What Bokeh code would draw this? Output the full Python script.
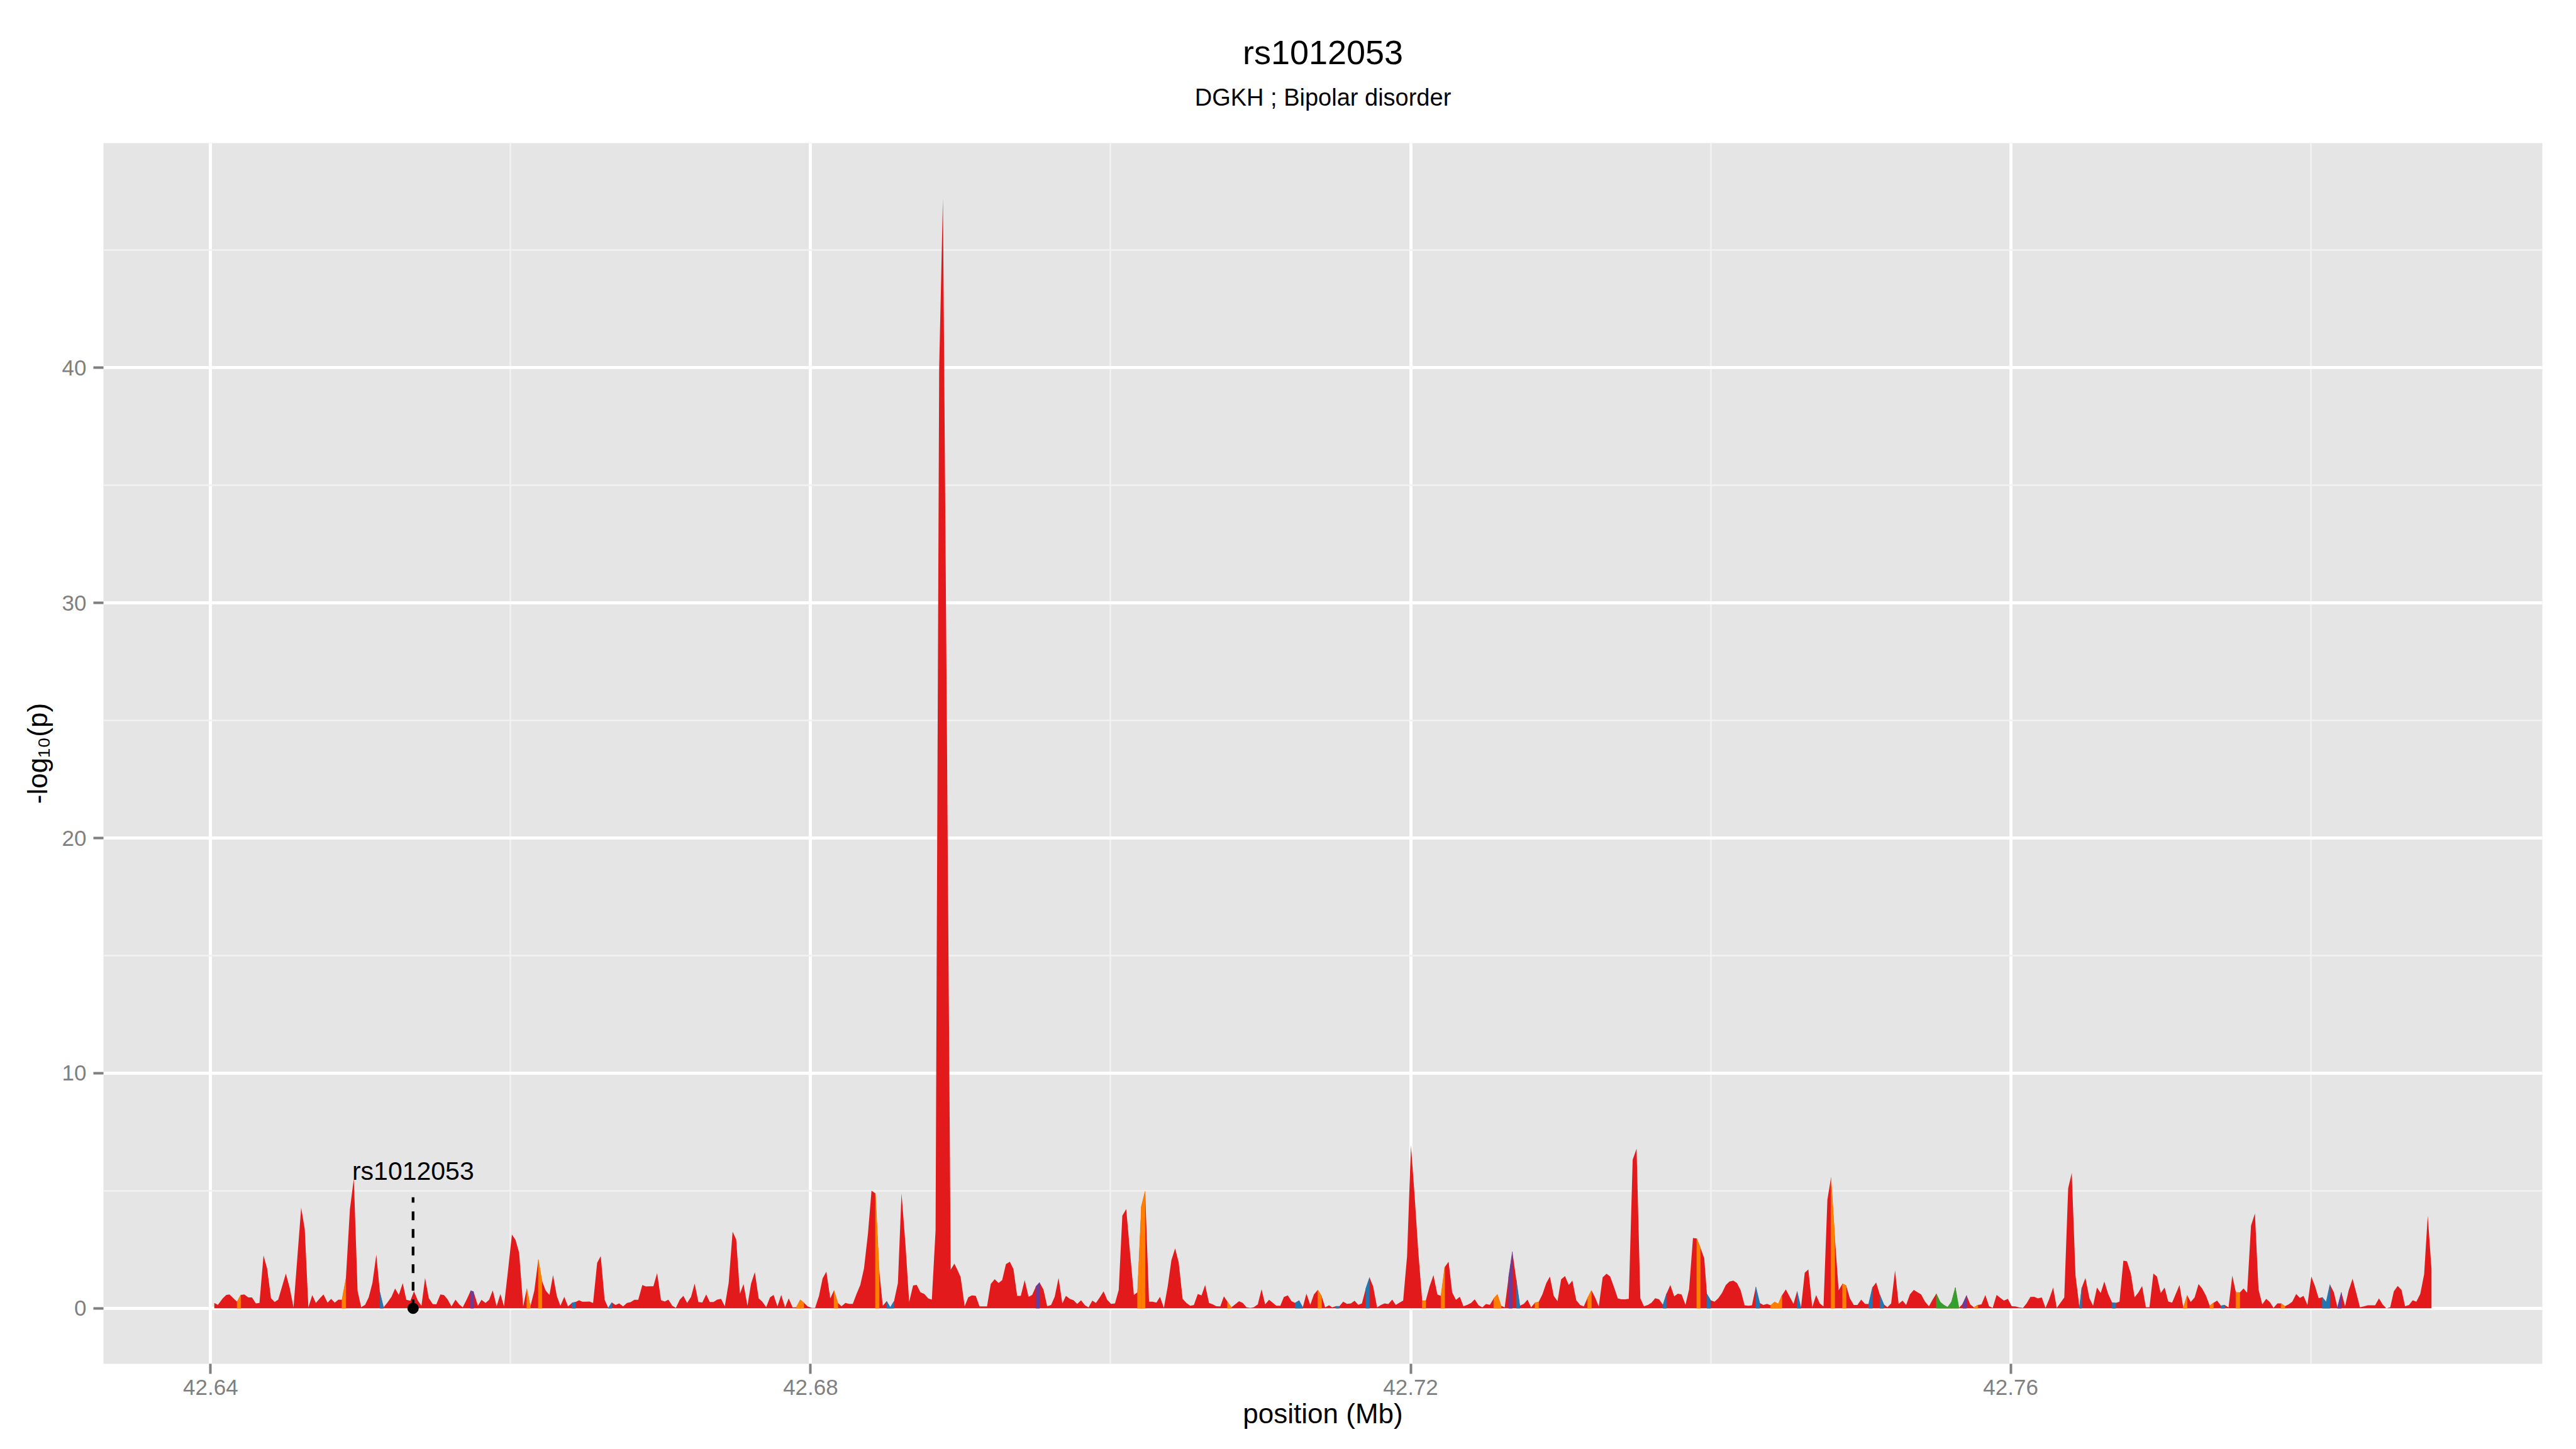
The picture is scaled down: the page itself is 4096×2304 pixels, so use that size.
import numpy as np
from bokeh.plotting import figure
from bokeh.models import FixedTicker, PrintfTickFormatter, Range1d, Label, Title
from bokeh.embed import file_html
from bokeh.resources import INLINE

# ---------------- data ----------------
title = "rs1012053"
subtitle = "DGKH ; Bipolar disorder"
snp_label = "rs1012053"
snp_position = 42.6535
snp_line_top = 4.72
snp_label_y = 5.85

x_major = [42.64, 42.68, 42.72, 42.76]
x_minor = [42.66, 42.70, 42.74, 42.78]
y_major = [0, 10, 20, 30, 40]
y_minor = [5, 15, 25, 35, 45]

position_mb = [
42.64025,42.64049,42.64081,42.64105,42.64126,42.64153,42.64177,42.64201,42.64225,42.64252,
42.64276,42.64302,42.64326,42.64353,42.64377,42.64403,42.64427,42.64451,42.64502,42.64527,
42.64553,42.64604,42.64628,42.64652,42.64678,42.64702,42.64729,42.64753,42.64780,42.64804,
42.64828,42.64852,42.64876,42.64902,42.64929,42.64955,42.64980,42.65004,42.65030,42.65054,
42.65079,42.65105,42.65129,42.65153,42.65177,42.65206,42.65230,42.65255,42.65281,42.65305,
42.65332,42.65356,42.65382,42.65406,42.65430,42.65455,42.65481,42.65505,42.65532,42.65556,
42.65580,42.65606,42.65633,42.65657,42.65681,42.65708,42.65734,42.65753,42.65782,42.65806,
42.65833,42.65857,42.65881,42.65907,42.65932,42.65956,42.65982,42.66009,42.66033,42.66057,
42.66084,42.66108,42.66132,42.66158,42.66185,42.66209,42.66233,42.66259,42.66283,42.66308,
42.66332,42.66358,42.66383,42.66409,42.66433,42.66457,
42.66478,42.66502,42.66526,42.66550,42.66577,42.66601,42.66627,42.66651,42.66675,42.66700,
42.66724,42.66750,42.66776,42.66800,42.66825,42.66851,42.66878,42.66902,42.66928,42.66952,
42.66977,42.67003,42.67028,42.67052,42.67078,42.67102,42.67128,42.67152,42.67177,42.67203,
42.67227,42.67252,42.67278,42.67304,42.67328,42.67353,42.67377,42.67403,42.67428,42.67454,
42.67480,42.67504,42.67529,42.67553,42.67579,42.67603,42.67628,42.67654,42.67678,42.67704,
42.67729,42.67753,42.67779,42.67804,42.67830,42.67854,42.67880,42.67905,42.67931,42.67955,
42.67980,42.68006,42.68030,42.68056,42.68080,42.68105,42.68131,42.68156,42.68182,42.68206,
42.68232,42.68257,42.68281,42.68307,42.68331,42.68356,42.68382,42.68406,42.68432,42.68457,
42.68481,42.68507,42.68531,42.68556,42.68582,42.68606,42.68632,42.68657,42.68683,42.68707,
42.68732,42.68758,42.68784,42.68808,42.68833,42.68857,42.68882,42.68907,42.68934,42.68958,
42.68976,42.69000,42.69027,42.69051,42.69075,42.69101,42.69126,42.69152,42.69176,42.69201,
42.69227,42.69253,42.69277,42.69302,42.69328,42.69352,42.69377,42.69401,42.69427,42.69453,
42.69477,42.69502,42.69526,42.69552,42.69577,42.69603,42.69627,42.69653,42.69678,42.69702,
42.69728,42.69753,42.69777,42.69803,42.69829,42.69853,42.69878,42.69902,42.69928,42.69953,
42.69977,42.70003,42.70029,42.70054,42.70078,42.70104,42.70129,42.70155,42.70179,42.70205,
42.70230,42.70256,42.70280,42.70305,42.70329,42.70355,42.70381,42.70405,42.70430,42.70454,
42.70480,42.70505,42.70531,42.70555,42.70581,42.70606,42.70630,42.70656,42.70681,42.70705,
42.70731,42.70755,42.70779,42.70805,42.70830,42.70856,42.70881,42.70905,42.70931,42.70955,
42.70981,42.71006,42.71030,42.71056,42.71080,42.71105,42.71131,42.71155,42.71181,42.71206,
42.71230,42.71256,42.71281,42.71305,42.71331,42.71355,42.71381,42.71406,42.71430,42.71456,
42.71477,42.71501,42.71525,42.71550,42.71576,42.71602,42.71626,42.71651,42.71675,42.71701,
42.71726,42.71750,42.71776,42.71802,42.71826,42.71851,42.71877,42.71901,42.71926,42.71950,
42.71976,42.72002,42.72026,42.72051,42.72077,42.72101,42.72126,42.72152,42.72178,42.72202,
42.72227,42.72253,42.72277,42.72302,42.72328,42.72352,42.72378,42.72403,42.72427,42.72453,
42.72478,42.72502,42.72528,42.72554,42.72578,42.72603,42.72627,42.72653,42.72678,42.72704,
42.72728,42.72754,42.72779,42.72803,42.72829,42.72853,42.72878,42.72904,42.72928,42.72954,
42.72979,42.73003,42.73029,42.73054,42.73078,42.73104,42.73130,42.73154,42.73179,42.73205,
42.73229,42.73254,42.73280,42.73306,42.73330,42.73355,42.73381,42.73405,42.73430,42.73454,
42.73480,42.73506,42.73531,42.73555,42.73581,42.73606,42.73630,42.73656,42.73682,42.73706,
42.73731,42.73757,42.73781,42.73806,42.73832,42.73856,42.73882,42.73907,42.73931,42.73957,
42.73975,42.74000,42.74026,42.74050,42.74075,42.74101,42.74125,42.74151,42.74176,42.74200,
42.74226,42.74251,42.74275,42.74301,42.74327,42.74351,42.74376,42.74400,42.74426,42.74451,
42.74475,42.74501,42.74527,42.74552,42.74576,42.74602,42.74627,42.74651,42.74677,42.74703,
42.74727,42.74752,42.74778,42.74802,42.74827,42.74853,42.74879,42.74903,42.74928,42.74954,
42.74978,42.75003,42.75029,42.75053,42.75079,42.75103,42.75128,42.75154,42.75178,42.75203,
42.75229,42.75253,42.75279,42.75303,42.75328,42.75354,42.75379,42.75403,42.75429,42.75455,
42.75479,42.75504,42.75530,42.75554,42.75579,42.75605,42.75631,42.75655,42.75680,42.75706,
42.75730,42.75755,42.75781,42.75805,42.75831,42.75856,42.75880,42.75906,42.75931,42.75955,
42.75981,42.76007,42.76031,42.76056,42.76082,42.76106,42.76131,42.76157,42.76181,42.76207,
42.76232,42.76256,42.76283,42.76307,42.76331,42.76357,42.76383,42.76407,42.76432,42.76458,
42.76474,42.76498,42.76525,42.76549,42.76575,42.76600,42.76624,42.76650,42.76676,42.76700,
42.76725,42.76751,42.76775,42.76800,42.76826,42.76850,42.76876,42.76901,42.76925,42.76951,
42.76975,42.77000,42.77026,42.77050,42.77076,42.77101,42.77125,42.77151,42.77176,42.77200,
42.77226,42.77252,42.77276,42.77301,42.77327,42.77351,42.77376,42.77402,42.77426,42.77452,
42.77477,42.77501,42.77527,42.77552,42.77576,42.77602,42.77628,42.77652,42.77677,42.77703,
42.77727,42.77752,42.77778,42.77802,42.77828,42.77853,42.77877,42.77903,42.77928,42.77952,
42.77978,42.78004,42.78028,42.78053,42.78077,42.78103,42.78128,42.78154,42.78178,42.78204,
42.78229,42.78253,42.78279,42.78304,42.78328,42.78354,42.78380,42.78404,42.78429,42.78455,
42.78479,42.78504,42.78530,42.78554,42.78580,42.78605,42.78629,42.78655,42.78680,42.78704,
42.78730,42.78756,42.78780,42.78805,
]

neg_log10_p = [
0.23,0.15,0.42,0.57,0.59,0.42,0.28,0.57,0.59,0.46,
0.46,0.21,0.23,2.25,1.69,0.43,0.27,0.37,1.48,0.88,
0.04,4.28,3.36,0.04,0.56,0.23,0.43,0.59,0.24,0.40,
0.24,0.37,0.36,1.26,4.22,5.52,0.74,0.05,0.15,0.46,
1.08,2.28,0.68,0.04,0.23,0.49,0.84,0.57,1.07,0.36,
0.32,0.72,0.33,0.11,1.29,0.43,0.18,0.17,0.59,0.56,
0.38,0.08,0.37,0.17,0.04,0.38,0.75,0.71,0.11,0.36,
0.23,0.36,0.76,0.09,0.61,0.09,1.56,3.14,2.91,2.36,
0.08,0.84,0.08,0.74,2.08,1.18,0.76,0.57,1.41,0.53,
0.11,0.49,0.08,0.23,0.27,0.34,
0.28,0.28,0.29,0.23,1.93,2.22,0.36,0.02,0.25,0.14,
0.21,0.08,0.23,0.26,0.36,0.36,0.99,0.93,0.94,0.94,
1.50,0.34,0.29,0.37,0.11,0.02,0.37,0.53,0.23,0.49,
1.05,0.27,0.25,0.59,0.27,0.27,0.37,0.40,0.09,1.09,
3.26,2.93,0.62,1.03,0.11,1.05,1.54,0.42,0.28,0.05,
0.46,0.57,0.08,0.57,0.04,0.42,0.04,0.05,0.36,0.24,
0.08,0.02,0.02,0.53,1.27,1.56,0.42,0.76,0.23,0.09,
0.23,0.19,0.19,0.62,0.99,1.70,3.16,5.00,4.89,1.64,
0.11,0.30,0.04,0.30,1.08,4.89,2.74,0.27,0.97,1.00,
0.68,0.61,0.42,0.37,3.31,40.0,47.2,26.0,1.64,1.90,
1.67,1.33,0.09,0.47,0.55,0.53,0.08,0.08,0.08,1.04,
1.24,1.08,1.20,1.88,1.98,1.67,0.53,0.53,1.20,0.49,
0.57,0.93,1.10,0.80,0.09,0.14,0.49,1.29,0.21,0.53,
0.40,0.34,0.19,0.34,0.13,0.04,0.33,0.23,0.47,0.72,
0.36,0.19,0.21,0.78,3.94,4.22,2.40,0.57,0.68,4.34,
4.98,0.28,0.28,0.24,0.49,0.02,0.95,2.05,2.55,1.94,
0.40,0.23,0.11,0.14,0.61,0.55,0.99,0.23,0.17,0.09,
0.08,0.51,0.28,0.04,0.17,0.30,0.23,0.05,0.02,0.05,
0.17,0.81,0.17,0.36,0.24,0.11,0.11,0.48,0.55,0.30,
0.23,0.33,0.04,0.62,0.15,0.59,0.78,0.53,0.04,0.13,
0.04,0.09,0.09,0.28,0.19,0.21,0.32,0.15,0.21,0.84,
1.31,0.93,0.04,0.14,0.21,0.18,0.37,0.14,0.24,0.33,
2.21,6.93,4.83,2.40,0.32,0.33,0.93,1.41,0.59,0.53,
1.75,1.98,0.67,0.36,0.49,0.09,0.15,0.23,0.38,0.13,
0.04,0.18,0.15,0.42,0.59,0.11,0.04,1.33,2.41,1.22,
0.11,0.19,0.37,0.04,0.24,0.27,0.59,1.07,1.35,0.53,
0.30,1.23,1.37,0.99,1.18,0.34,0.14,0.08,0.44,0.76,
0.47,0.08,1.32,1.47,1.35,0.91,0.42,0.38,0.38,0.40,
6.32,6.79,0.43,0.09,0.14,0.24,0.43,0.38,0.15,0.63,
0.99,0.51,0.62,0.59,0.15,0.80,2.99,2.97,2.59,2.13,
0.61,0.34,0.28,0.42,0.65,0.99,1.14,1.18,1.07,0.76,
0.13,0.11,0.13,0.91,0.23,0.14,0.19,0.13,0.27,0.19,
0.55,0.80,0.49,0.19,0.72,0.02,1.51,1.65,0.05,0.56,
0.21,0.08,4.62,5.56,3.08,0.76,1.05,0.97,0.42,0.14,
0.14,0.37,0.19,0.18,0.90,1.10,0.57,0.17,0.05,0.21,
1.61,0.19,0.33,0.14,0.59,0.78,0.68,0.59,0.28,0.09,
0.36,0.62,0.27,0.14,0.05,0.27,0.88,0.02,0.19,0.55,
0.17,0.04,0.14,0.17,0.56,0.09,0.02,0.57,0.44,0.33,
0.40,0.09,0.08,0.04,0.02,0.21,0.48,0.49,0.42,0.46,
0.02,0.38,0.88,0.02,0.23,0.46,5.10,5.76,1.40,0.05,
0.88,1.29,0.43,0.11,0.88,0.65,1.14,0.61,0.24,0.23,
0.28,2.03,2.00,1.50,0.47,0.66,0.95,0.05,0.05,1.48,
1.35,0.65,0.88,0.29,0.24,0.62,0.99,0.02,0.56,0.27,
0.46,1.03,0.84,0.55,0.11,0.23,0.33,0.11,0.14,0.04,
1.39,0.68,0.67,0.84,0.66,3.52,4.03,0.80,0.17,0.40,
0.27,0.02,0.21,0.21,0.09,0.17,0.28,0.61,0.44,0.53,
0.14,1.35,0.95,0.43,0.47,0.27,1.01,0.68,0.04,0.68,
0.09,0.76,1.26,0.65,0.05,0.08,0.13,0.13,0.13,0.42,
0.17,0.00,0.05,0.72,0.95,0.78,0.09,0.14,0.34,0.28,
0.61,1.45,3.94,1.67,
]

# SNPs whose LD class is not the top (red) class
ld_orange = [42.64201, 42.64902, 42.66132, 42.66209, 42.67931, 42.67955, 42.68182, 42.68457,
             42.70205, 42.70230, 42.70805, 42.71406, 42.72101, 42.72227, 42.72578, 42.72603,
             42.72853, 42.73205, 42.73931, 42.74426, 42.74451, 42.74475, 42.74827, 42.74903,
             42.75781, 42.77176, 42.77351, 42.77527, 42.77828]
ld_blue = [42.65153, 42.66433, 42.66675, 42.68531, 42.68556, 42.71256, 42.71281, 42.71525,
           42.71726, 42.72728, 42.73706, 42.74000, 42.74327, 42.74602, 42.75079, 42.75154,
           42.76474, 42.76700, 42.77426, 42.78103, 42.78128]
ld_purple = [42.65753, 42.69526, 42.72678, 42.75706, 42.78204]
ld_green = [42.75530, 42.75554, 42.75579, 42.75605, 42.75631, 42.75655]

# ---------------- styling ----------------
RED = "#E31A1C"
ORANGE = "#FF7F00"
BLUE = "#1F78B4"
PURPLE = "#6A3D9A"
GREEN = "#33A02C"
FONT = "Liberation Sans"

W, H = 4096, 2304
BL, BR, BT, BB = 164, 54, 227, 136

pos = np.array(position_mb)
val = np.array(neg_log10_p)
xspan = pos.max() - pos.min()
ymax = val.max()

p = figure(width=W, height=H, output_backend="svg", toolbar_location=None,
           x_range=Range1d(pos.min() - 0.05 * xspan, pos.max() + 0.05 * xspan),
           y_range=Range1d(-0.05 * ymax, 1.05 * ymax),
           min_border_left=BL, min_border_right=BR, min_border_top=BT, min_border_bottom=BB)
p.background_fill_color = "#E5E5E5"
p.border_fill_color = "white"
p.outline_line_color = None

for g in (p.xgrid, p.ygrid):
    g.grid_line_color = "white"
    g.grid_line_width = 5
    g.minor_grid_line_color = "#F2F2F2"
    g.minor_grid_line_width = 2.5

p.xaxis.ticker = FixedTicker(ticks=x_major, minor_ticks=x_minor)
p.yaxis.ticker = FixedTicker(ticks=y_major, minor_ticks=y_minor)
p.xaxis.formatter = PrintfTickFormatter(format="%.2f")
p.yaxis.formatter = PrintfTickFormatter(format="%d")

for ax in (p.xaxis, p.yaxis):
    ax.axis_line_color = None
    ax.major_tick_in = 0
    ax.major_tick_out = 16
    ax.major_tick_line_color = "#7F7F7F"
    ax.major_tick_line_width = 4
    ax.minor_tick_line_color = None
    ax.major_label_text_color = "#7F7F7F"
    ax.major_label_text_font = FONT
    ax.major_label_text_font_size = "35px"
    ax.axis_label_text_font = FONT
    ax.axis_label_text_font_size = "44px"
    ax.axis_label_text_font_style = "normal"
    ax.axis_label_text_color = "black"

p.xaxis.axis_label = "position (Mb)"
p.yaxis.axis_label = "-log\u2081\u2080(p)"
p.xaxis.major_label_standoff = 9
p.yaxis.major_label_standoff = 11
p.xaxis.axis_label_standoff = 2
p.yaxis.axis_label_standoff = 12

# main area
p.varea(x=pos, y1=0, y2=val, fill_color=RED)

# LD-coloured segments
xs, ys, cols = [], [], []
for positions, color in ((ld_orange, ORANGE), (ld_blue, BLUE), (ld_purple, PURPLE), (ld_green, GREEN)):
    for x in positions:
        i = int(np.argmin(np.abs(pos - x)))
        xs.append([pos[i - 1], pos[i - 1], pos[i], pos[i]])
        ys.append([0.0, val[i - 1], val[i], 0.0])
        cols.append(color)
p.patches(xs=xs, ys=ys, fill_color=cols, line_color=cols, line_width=0.5)

# highlighted SNP
p.line(x=[snp_position, snp_position], y=[0, snp_line_top], line_color="black",
       line_width=4.3, line_dash="14 14")
p.scatter(x=[snp_position], y=[0], size=17, fill_color="black", line_color="black")
p.add_layout(Label(x=snp_position, y=snp_label_y, text=snp_label, text_align="center",
                   text_baseline="alphabetic", text_font=FONT, text_font_size="41px",
                   text_color="black"))

# titles (subtitle is nearest the panel, title above it)
p.add_layout(Title(text=subtitle, align="center", text_font=FONT, text_font_size="38px",
                   text_font_style="normal", text_color="black", standoff=104), "above")
p.add_layout(Title(text=title, align="center", text_font=FONT, text_font_size="54px",
                   text_font_style="normal", text_color="black", standoff=-66), "above")

open("out.html", "w").write(file_html(p, INLINE))
